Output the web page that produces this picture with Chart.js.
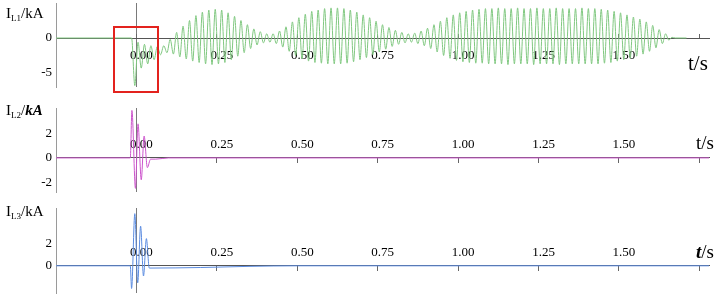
<!DOCTYPE html>
<html>
<head>
<meta charset="utf-8">
<script src="https://cdn.jsdelivr.net/npm/chart.js@4.4.1/dist/chart.umd.min.js"></script>
<style>
  html, body { margin: 0; padding: 0; background: #fff; }
  #wrap { position: relative; width: 720px; height: 298px; overflow: hidden; }
  canvas { position: absolute; left: 0; }
  .ttl { position: absolute; font-family: 'Liberation Serif', 'Times New Roman', serif; font-size: 15px; line-height: 16px; color: #000; white-space: nowrap; }
  .ttl sub { font-size: 9px; vertical-align: -3px; line-height: 0; }
  .unit { position: absolute; font-family: 'Liberation Serif', 'Times New Roman', serif; color: #000; white-space: nowrap; }
  #zoomBox { position: absolute; left: 113px; top: 26px; width: 46px; height: 67px; border: 2px solid #e3231e; box-sizing: border-box; }
</style>
</head>
<body>
<div id="wrap">
  <canvas id="c1" width="720" height="100" style="top:0"></canvas>
  <canvas id="c2" width="720" height="100" style="top:100px"></canvas>
  <canvas id="c3" width="720" height="98" style="top:200px"></canvas>

  <div class="ttl" style="left:6px;top:5px">I<sub>L1</sub>/kA</div>
  <div class="ttl" style="left:6px;top:102px">I<sub>L2</sub>/<b><i>kA</i></b></div>
  <div class="ttl" style="left:6px;top:203px">I<sub>L3</sub>/kA</div>

  <div class="unit" style="left:688px;top:51px;font-size:21px">t/s</div>
  <div class="unit" style="left:696px;top:132px;font-size:19px">t/s</div>
  <div class="unit" style="left:696px;top:241px;font-size:19px"><b><i>t</i></b>/s</div>

  <div id="zoomBox"></div>
</div>

<script>
// Fault current waveforms of the three phases

Chart.defaults.font.family = "'Liberation Serif', 'Times New Roman', serif";
Chart.defaults.color = '#000';

// time axis (s)
const timeTicks = [0, 0.25, 0.5, 0.75, 1, 1.25, 1.5, 1.75];
const timeTickLabels = ['0.00', '0.25', '0.50', '0.75', '1.00', '1.25', '1.50', ''];
const timeMin = -0.25;
const timeMax = 1.78;

// phase L1: half-cycle peaks (kA), one every l1Step seconds from l1Start
const l1Start = -0.015;
const l1Step = 0.01;
const l1Peaks = [
    0, -6.8, -0.6, -4.3, -0.9, -3.7, -1.1, -3.1, -1.2, -2.4,
    -1.1, -2.1, -0.2, -2.3, 0.8, -2.7, 1.7, -3.0, 2.5, -3.3,
    3.2, -3.5, 3.7, -3.7, 4.0, -3.8, 4.1, -3.7, 4.0, -3.5,
    3.6, -3.1, 3.1, -2.6, 2.5, -2.1, 1.9, -1.5, 1.3, -1.0,
    0.9, -0.7, 0.6, -0.6, 0.6, -0.8, 1.0, -1.3, 1.6, -1.9,
    2.3, -2.5, 2.9, -3.0, 3.4, -3.3, 3.8, -3.5, 4.0, -3.6,
    4.2, -3.7, 4.3, -3.7, 4.3, -3.7, 4.2, -3.6, 4.0, -3.4,
    3.7, -3.1, 3.3, -2.8, 2.9, -2.4, 2.4, -2.0, 1.9, -1.6,
    1.5, -1.2, 1.1, -0.9, 0.8, -0.7, 0.6, -0.6, 0.7, -0.8,
    1.0, -1.1, 1.4, -1.5, 1.9, -2.0, 2.4, -2.5, 2.9, -2.9,
    3.3, -3.2, 3.6, -3.4, 3.8, -3.5, 4.0, -3.6, 4.1, -3.6,
    4.2, -3.7, 4.2, -3.7, 4.3, -3.7, 4.2, -3.8, 4.2, -3.7,
    4.3, -3.7, 4.2, -3.7, 4.2, -3.8, 4.3, -3.7, 4.2, -3.7,
    4.2, -3.7, 4.3, -3.8, 4.2, -3.7, 4.2, -3.7, 4.2, -3.7,
    4.3, -3.7, 4.2, -3.7, 4.2, -3.7, 4.1, -3.6, 4.0, -3.5,
    3.8, -3.3, 3.6, -3.1, 3.3, -2.9, 3.0, -2.6, 2.7, -2.3,
    2.3, -1.9, 1.8, -1.4, 1.2, -0.8, 0.6, -0.3, 0.1, 0
];
const l1FlatTimes = [-0.25, 1.71];

// phase L2
const l2Times = [-0.25, -0.019, -0.014, -0.003, 0.005, 0.015, 0.024, 0.034, 0.044, 0.06, 0.1, 1.78];
const l2Values = [0, 0, 3.9, -2.5, 2.8, -1.8, 1.8, -0.8, -0.1, -0.1, 0, 0];

// phase L3
const l3Times = [-0.25, -0.019, -0.015, -0.005, 0.004, 0.013, 0.022, 0.031, 0.04, 0.2, 0.35, 0.5, 1.78];
const l3Values = [0, 0, -2.0, 4.6, -1.5, 3.5, -0.9, 2.4, -0.2, -0.15, -0.05, 0, 0];

// value axes (kA)
const l1YTicks = [-5, 0];
const l2YTicks = [-2, 0, 2];
const l3YTicks = [0, 2];

function l1Points() {
    const pts = [{ x: l1FlatTimes[0], y: 0 }];
    l1Peaks.forEach((v, i) => pts.push({ x: l1Start + i * l1Step, y: v }));
    pts.push({ x: l1FlatTimes[1], y: 0 });
    return pts;
}

function pairs(times, values) {
    return times.map((t, i) => ({ x: t, y: values[i] }));
}

// the axes should not push the plot area around
function noAxisPadding(s) {
    s.paddingTop = 0;
    s.paddingBottom = 0;
    s.paddingLeft = 0;
    s.paddingRight = 0;
}

function makePanel(id, points, color, yMin, yMax, yTicks, padding, tickLen, labelPad) {
    return new Chart(document.getElementById(id), {
        type: 'line',
        data: {
            datasets: [{
                data: points,
                borderColor: color,
                borderWidth: 1,
                pointRadius: 0,
                cubicInterpolationMode: 'monotone',
                fill: false
            }]
        },
        options: {
            responsive: false,
            animation: false,
            events: [],
            layout: { padding: padding },
            plugins: { legend: { display: false }, tooltip: { enabled: false } },
            scales: {
                x: {
                    type: 'linear',
                    position: { y: 0 },
                    min: timeMin,
                    max: timeMax,
                    afterBuildTicks: s => { s.ticks = timeTicks.map(v => ({ value: v })); },
                    afterFit: noAxisPadding,
                    border: { color: '#555', width: 1 },
                    grid: {
                        drawOnChartArea: true,
                        color: ctx => (ctx.tick && ctx.tick.value === 0) ? '#7a7a7a' : 'rgba(0,0,0,0)',
                        tickColor: '#666',
                        tickLength: tickLen
                    },
                    ticks: {
                        autoSkip: false,
                        maxRotation: 0,
                        padding: labelPad,
                        labelOffset: 5,
                        color: '#000',
                        font: { size: 13 },
                        callback: (v, i) => timeTickLabels[i]
                    }
                },
                y: {
                    min: yMin,
                    max: yMax,
                    afterBuildTicks: s => { s.ticks = yTicks.map(v => ({ value: v })); },
                    afterFit: s => { s.width = 56; noAxisPadding(s); },
                    border: { color: '#9a9a9a', width: 1 },
                    grid: { drawOnChartArea: false, drawTicks: false },
                    ticks: { padding: 4, color: '#000', font: { size: 13 } }
                }
            }
        }
    });
}

makePanel('c1', l1Points(), '#80c880', -7, 5, l1YTicks,
    { left: 0, right: 11, top: 3, bottom: 13 }, -5, 15);
makePanel('c2', pairs(l2Times, l2Values), '#cc55cc', -2.8, 4.1, l2YTicks,
    { left: 0, right: 11, top: 8, bottom: 8 }, 5, -26);
makePanel('c3', pairs(l3Times, l3Values), '#5a8be0', -2.4, 5.1, l3YTicks,
    { left: 0, right: 11, top: 8, bottom: 5 }, 5, -26);
</script>
</body>
</html>
